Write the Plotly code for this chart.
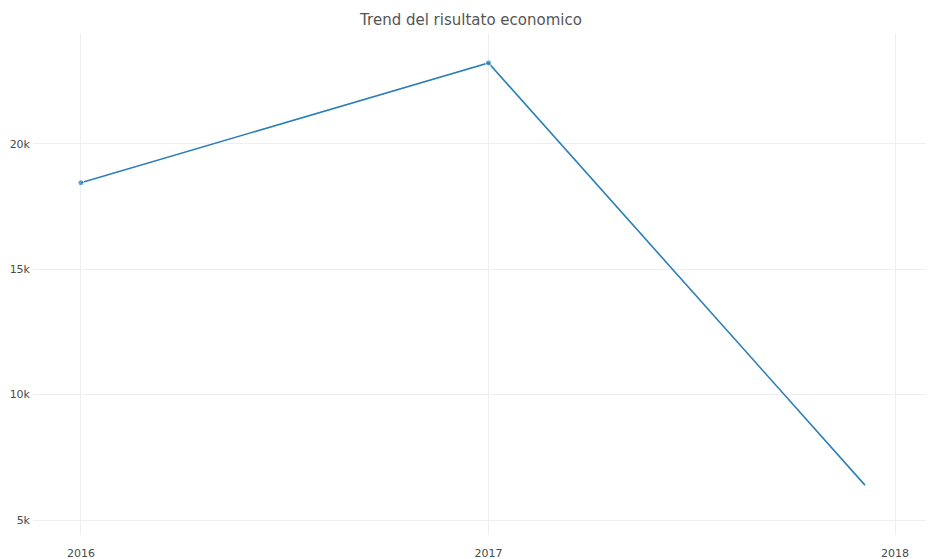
import plotly.graph_objects as go

dates = ["2016-01-01", "2017-01-01", "2017-12-05"]
values = [18450, 23230, 6390]
marker_sizes = [6, 6, 0]

fig = go.Figure()
fig.add_trace(go.Scatter(
    x=dates, y=values, mode="lines+markers",
    line=dict(color="#2c7fb8", width=1.6),
    marker=dict(color="#2c7fb8", size=marker_sizes),
    showlegend=False,
))

fig.update_layout(
    width=926, height=551,
    margin=dict(l=25, r=0, t=26, b=24),
    paper_bgcolor="white", plot_bgcolor="white",
    font=dict(family="DejaVu Sans", color="#4a4a4a"),
    title=dict(text="Trend del risultato economico", x=0.5, xanchor="center",
               y=1 - 12 / 551, yanchor="middle", font=dict(size=15, color="#555555")),
    xaxis=dict(type="date", range=["2015-11-19", "2018-02-05"],
               tickvals=["2016-01-01", "2017-01-01", "2018-01-01"],
               ticktext=["2016", "2017", "2018"],
               showgrid=True, gridcolor="#eeeeee", zeroline=False,
               ticklabelstandoff=10,
               tickfont=dict(size=11, color="#4a4a4a"), showline=False),
    yaxis=dict(range=[4402, 24382], tickvals=[5000, 10000, 15000, 20000],
               ticktext=["5k", "10k", "15k", "20k"],
               showgrid=True, gridcolor="#eeeeee", zeroline=False,
               ticklabelstandoff=2,
               tickfont=dict(size=11, color="#4a4a4a"), showline=False),
)

fig.write_html("out.html")
